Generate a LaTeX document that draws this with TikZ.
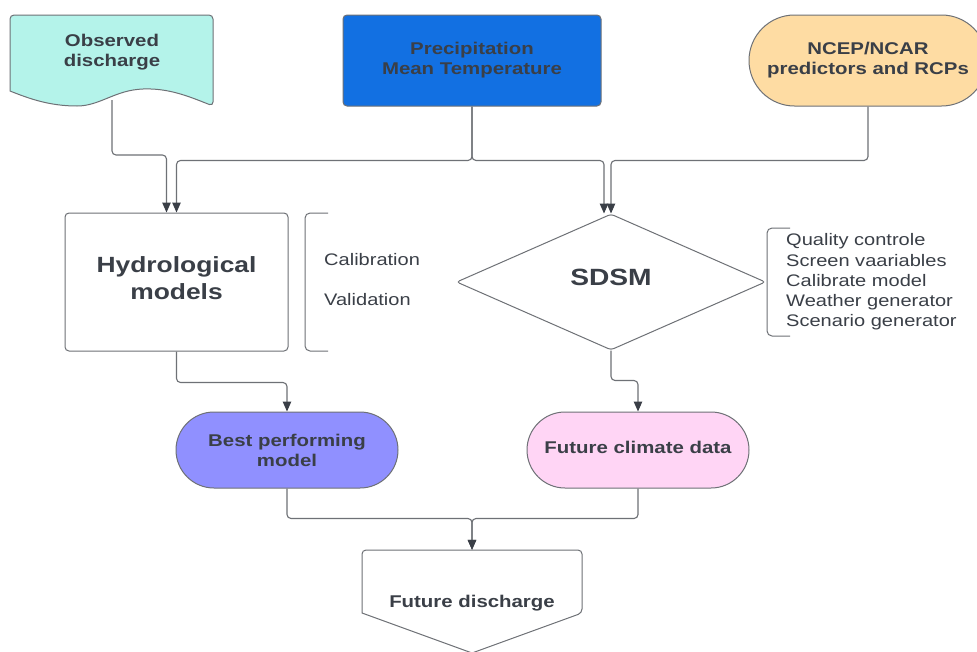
\documentclass[tikz,border=0pt]{standalone}
\usepackage{fontspec}
\setmainfont{Liberation Sans}[FakeStretch=1.2]
\usetikzlibrary{shapes.geometric,arrows.meta}
\definecolor{txt}{HTML}{3A3F47}
\definecolor{edge}{HTML}{6E7176}
\definecolor{obsc}{HTML}{B4F3EA}
\definecolor{precc}{HTML}{1270E2}
\definecolor{ncepc}{HTML}{FEDCA3}
\definecolor{bestc}{HTML}{9090FF}
\definecolor{climc}{HTML}{FFD5F5}
\newcommand{\liftc}[2]{\raisebox{#1}[\height][\depth]{\begin{tabular}{@{}c@{}}#2\end{tabular}}}
\begin{document}
\begin{tikzpicture}[x=1pt,y=-1pt,
  shp/.style={draw=edge, line width=1pt, inner sep=0pt, align=center, text=txt,
    font=\bfseries\fontsize{17}{20}\selectfont},
  lbl/.style={inner sep=0pt, align=center, text=txt, font=\bfseries\fontsize{17}{20}\selectfont},
  plain/.style={inner sep=0pt, align=left, text=txt, font=\fontsize{16.7}{20.3}\selectfont},
  conn/.style={draw=edge, line width=1.1pt, rounded corners=4pt},
  arr/.style={conn, -{Triangle[width=8.5pt,length=10pt,color=txt]}},
  brk/.style={draw=edge, line width=1pt, rounded corners=5pt}]
\useasboundingbox (0,0) rectangle (977,651);
\clip (0,0) rectangle (977,651);
\fill[white] (0,0) rectangle (977,651);

% Observed discharge (document shape)
\draw[draw=edge, line width=1pt, fill=obsc] (10,91) [rounded corners=4pt] -- (10,15) -- (213,15) -- (213,106) [sharp corners]
  .. controls (188,96) and (168,88) .. (143,89)
  .. controls (115,90) and (100,106) .. (77,106)
  .. controls (50,106) and (30,99) .. (10,91) -- cycle;
\node[lbl] (obs) at (112,52) {Observed\\discharge};
\coordinate (obsb) at (112,100);

% Precipitation box
\node[shp, fill=precc, rounded corners=4pt, minimum width=258, minimum height=91] (prec) at (472,60.5)
  {Precipitation\\Mean Temperature};

% NCEP stadium
\node[shp, fill=ncepc, rounded corners=45.5pt, minimum width=238, minimum height=91] (ncep) at (868,60.5)
  {NCEP/NCAR\\predictors and RCPs};

% Hydrological models
\node[shp, rounded corners=4pt, minimum width=223, minimum height=138,
  font=\bfseries\fontsize{22}{27}\selectfont] (hyd) at (176.5,282) {\liftc{1pt}{Hydrological\\models}};

% SDSM diamond
\node[shp, shape=diamond, rounded corners=3pt, minimum width=309, minimum height=136,
  font=\bfseries\fontsize{23.5}{27}\selectfont] (sdsm) at (611,282) {\liftc{1.5pt}{SDSM}};

% brackets and lists
\draw[brk] (328,213) -- (305,213) -- (305,351) -- (328,351);
\node[plain, anchor=west] (cal) at (324,260) {Calibration};
\node[plain, anchor=west] (val) at (324,300) {Validation};
\draw[brk] (790,228) -- (767,228) -- (767,336) -- (790,336);
\node[plain, anchor=west] (steps) at (786,282) {Quality controle\\Screen vaariables\\Calibrate model\\Weather generator\\Scenario generator};

% Best performing & future climate
\node[shp, fill=bestc, rounded corners=38pt, minimum width=222, minimum height=76] (best) at (287,450)
  {Best performing\\model};
\node[shp, fill=climc, rounded corners=38pt, minimum width=222, minimum height=76] (clim) at (638,450)
  {\liftc{1pt}{Future climate data}};

% Future discharge (off-page connector)
\draw[draw=edge, line width=1pt, fill=white] (362,613) [rounded corners=4pt] -- (362,550) -- (582,550) -- (582,613) [sharp corners] -- (472,653) -- cycle;
\node[lbl, minimum width=220, minimum height=101] (fd) at (472,600.5) {\liftc{-3pt}{Future discharge}};

% connectors
\draw[arr] (obsb) -- ++(0,55) -| ([xshift=-10pt]hyd.north);
\draw[arr] (prec.south) -- ++(0,54) -| (hyd.north);
\draw[arr] (prec.south) -- ++(0,54) -| ([xshift=-7pt]sdsm.north);
\draw[arr] (ncep.south) -- ++(0,54) -| (sdsm.north);
\draw[arr] (hyd.south) -- ++(0,31) -| (best.north);
\draw[arr] (sdsm.south) -- ++(0,30) -| (clim.north);
\draw[arr] (best.south) -- ++(0,30) -| (fd.north);
\draw[arr] (clim.south) -- ++(0,30) -| (fd.north);
\end{tikzpicture}
\end{document}
